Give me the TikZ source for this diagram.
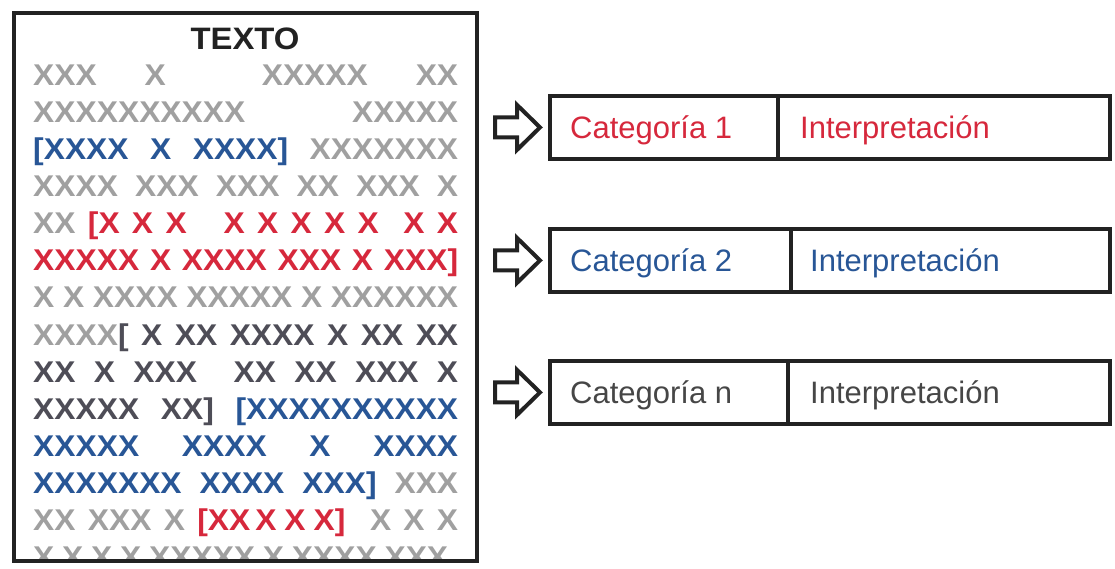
\documentclass[tikz,border=0pt]{standalone}
\usepackage{fontspec}
\setmainfont{Liberation Sans}
\newfontfamily\xfont{Liberation Sans}[FakeStretch=1.06]
\definecolor{xgray}{RGB}{160,160,160}
\definecolor{xblue}{RGB}{40,86,150}
\definecolor{xred}{RGB}{214,40,60}
\definecolor{xdark}{RGB}{78,77,87}
\definecolor{lineblack}{RGB}{34,34,34}
\definecolor{catdark}{RGB}{70,70,70}
\newcommand{\Bl}[1]{\textcolor{xblue}{#1}}
\newcommand{\Rd}[1]{\textcolor{xred}{#1}}
\newcommand{\Dk}[1]{\textcolor{xdark}{#1}}
\newcommand{\xline}[2][425pt]{\makebox[#1][s]{#2}}
\tikzset{
  xtext/.style={anchor=base west, inner sep=0pt, text=xgray, font=\fontsize{30}{36}\xfont\bfseries},
  cell/.style={draw=lineblack, line width=4.2pt, minimum height=63pt, inner sep=0pt, anchor=south west},
  cattext/.style={anchor=base west, inner sep=0pt, font=\fontsize{31}{37}\selectfont},
  barrow/.style={draw=lineblack, line width=4pt, line join=miter, fill=white},
  frame/.style={draw=lineblack, line width=4.2pt}
}
\begin{document}
\begin{tikzpicture}[x=1pt,y=1pt]
\useasboundingbox (0,0) rectangle (1115,568);
% left text box
\draw[frame] (14,7) rectangle (477,555);
\node[anchor=base, inner sep=0pt, text=lineblack, font=\fontsize{31}{36}\xfont\bfseries] (title) at (245,518) {TEXTO};
\begin{scope}
\clip (14,10) rectangle (477,553);
\node[xtext] (l1) at (33,482) {\xline{XXX X\ \ XXXXX XX}};
\node[xtext] (l2) at (33,445) {\xline{XXXXXXXXXX XXXXX}};
\node[xtext] (l3) at (33,408) {\xline{\Bl{[XXXX X XXXX]} XXXXXXX}};
\node[xtext] (l4) at (33,371) {\xline{XXXX XXX XXX XX XXX X}};
\node[xtext] (l5) at (33,334) {\xline{XX \Rd{[X X X\ \ \ X X X X X\ \ X X}}};
\node[xtext] (l6) at (33,297) {\xline{\Rd{XXXXX X XXXX XXX X XXX]}}};
\node[xtext] (l7) at (33,260) {\xline{X X XXXX XXXXX X\ XXXXXX}};
\node[xtext] (l8) at (33,223) {\xline{XXXX\Dk{[ X XX XXXX X XX XX}}};
\node[xtext] (l9) at (33,186) {\xline{\Dk{XX X XXX\ \ XX XX XXX X}}};
\node[xtext] (l10) at (33,149) {\xline{\Dk{XXXXX XX]} \Bl{[XXXXXXXXXX}}};
\node[xtext] (l11) at (33,112) {\xline{\Bl{XXXXX XXXX X XXXX}}};
\node[xtext] (l12) at (33,75) {\xline{\Bl{XXXXXXX XXXX XXX]} XXX}};
\node[xtext] (l13) at (33,38) {\xline{XX XXX X\ \Rd{[XX\hspace{5pt}X\hspace{8pt}X\hspace{8pt}X]}\ \ X X X}};
\node[xtext] (l14) at (33,1) {\xline[415pt]{X X X X\ XXXXX X XXXX XXX}};
\end{scope}
% right boxes
\node[cell, minimum width=228pt] (c1) at (548,407) {};
\node[cell, minimum width=332pt] (i1) at (776,407) {};
\node[cell, minimum width=241pt] (c2) at (548,274) {};
\node[cell, minimum width=319pt] (i2) at (789,274) {};
\node[cell, minimum width=238pt] (c3) at (548,142) {};
\node[cell, minimum width=322pt] (i3) at (786,142) {};
% labels
\node[cattext, text=xred] (tc1) at ([xshift=22pt,yshift=-11pt]c1.west) {Categoría 1};
\node[cattext, text=xred] (ti1) at ([xshift=24pt,yshift=-11pt]i1.west) {Interpretación};
\node[cattext, text=xblue] (tc2) at ([xshift=22pt,yshift=-11pt]c2.west) {Categoría 2};
\node[cattext, text=xblue] (ti2) at ([xshift=21pt,yshift=-11pt]i2.west) {Interpretación};
\node[cattext, text=catdark] (tc3) at ([xshift=22pt,yshift=-11pt]c3.west) {Categoría n};
\node[cattext, text=catdark] (ti3) at ([xshift=24pt,yshift=-11pt]i3.west) {Interpretación};
% block arrows
\foreach \b in {c1,c2,c3}{
  \draw[barrow] ([xshift=-8pt]\b.west) -- ++(-23,22.5) -- ++(0,-12.5) -- ++(-22,0) -- ++(0,-20) -- ++(22,0) -- ++(0,-12.5) -- cycle;
}
\end{tikzpicture}
\end{document}
